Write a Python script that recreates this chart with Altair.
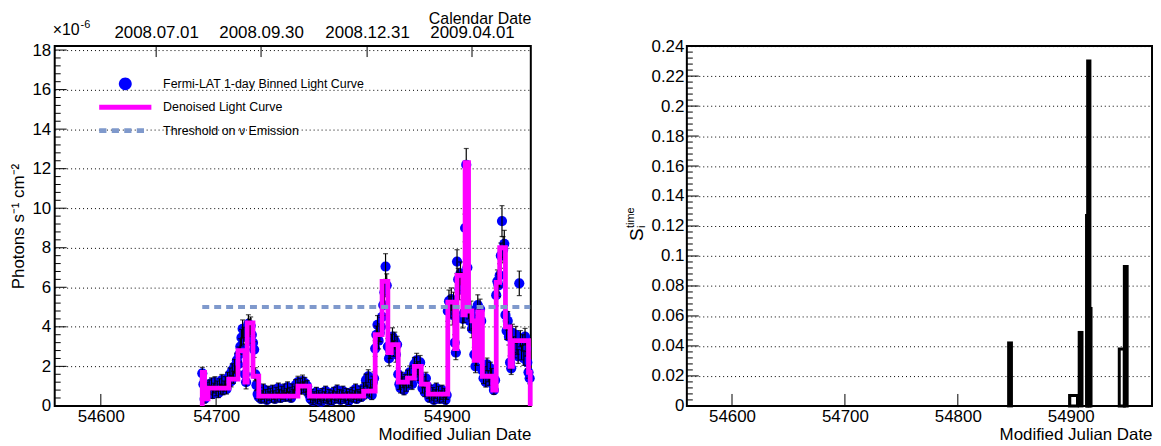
import altair as alt
import pandas as pd

FONT = "Liberation Sans"

# ---------------- left panel data ----------------
lc_first_mjd = 54688
lc_flux = [
    1.65, 1.10, 0.35, 0.55, 0.95, 0.70, 1.05, 0.80, 1.15, 0.60,   # 54688
    0.90, 1.20, 0.75, 1.00, 0.65, 1.10, 0.85, 1.30, 0.80, 1.00,   # 54698
    1.20, 0.85, 1.40, 1.15, 1.60, 1.25, 1.80, 1.45, 2.00, 1.70,   # 54708
    2.30, 2.10, 2.60, 3.00, 3.45, 3.90, 3.55, 1.60, 1.20, 3.80,   # 54718
    4.15, 3.95, 4.05, 3.60, 3.20, 2.85, 1.60, 1.05, 0.60, 0.45,   # 54728
    0.70, 0.35, 0.55, 0.85, 0.40, 0.60, 0.30, 0.75, 0.50, 0.65,   # 54738
    0.40, 0.80, 0.55, 0.35, 0.70, 0.45, 0.90, 0.60, 0.40, 0.75,   # 54748
    0.55, 0.85, 0.45, 0.65, 0.95, 0.50, 0.70, 0.40, 0.85, 0.60,   # 54758
    0.75, 1.05, 0.80, 1.20, 0.90, 1.10, 0.85, 1.25, 0.95, 1.15,   # 54768
    0.80, 1.00, 0.70, 0.55, 0.35, 0.60, 0.25, 0.50, 0.40, 0.70,   # 54778
    0.30, 0.55, 0.45, 0.20, 0.65, 0.35, 0.50, 0.75, 0.40, 0.30,   # 54788
    0.60, 0.45, 0.25, 0.55, 0.70, 0.35, 0.50, 0.80, 0.40, 0.60,   # 54798
    0.30, 0.55, 0.75, 0.45, 0.35, 0.65, 0.50, 0.25, 0.60, 0.45,   # 54808
    0.70, 0.40, 0.55, 0.85, 0.35, 0.60, 0.50, 0.75, 0.45, 0.65,   # 54818
    0.90, 0.60, 1.30, 0.80, 1.50, 0.70, 1.05, 0.55, 1.20, 1.40,   # 54828
    2.90, 3.60, 4.10, 3.30, 3.70, 4.00, 4.50, 5.10, 5.75, 7.05,   # 54838
    6.10, 3.00, 2.40, 2.80, 3.20, 3.50, 2.90, 3.30, 2.60, 3.10,   # 54848
    1.60, 1.10, 0.90, 1.40, 1.20, 0.80, 1.30, 1.00, 1.50, 1.20,   # 54858
    1.70, 1.30, 1.10, 1.60, 2.10, 1.80, 2.30, 1.90, 1.60, 2.20,   # 54868
    1.30, 0.90, 1.20, 0.70, 1.40, 1.00, 0.60, 0.40, 0.80, 0.50,   # 54878
    0.70, 0.30, 0.60, 0.90, 0.45, 0.75, 0.35, 0.55, 0.80, 0.40,   # 54888
    0.65, 0.30, 0.55, 4.80, 5.30, 5.00, 5.40, 4.60, 5.20, 3.20,   # 54898
    2.70, 7.30, 6.40, 5.90, 6.70, 6.20, 4.40, 4.70, 9.00, 12.20,  # 54908
    7.00, 4.90, 4.30, 4.80, 3.90, 4.40, 2.60, 2.00, 2.40, 5.10,   # 54918
    4.50, 4.90, 4.30, 1.80, 1.40, 1.70, 1.20, 2.10, 1.50, 1.30,   # 54928
    1.90, 1.60, 1.10, 0.80, 1.30, 5.60, 6.30, 6.10, 6.60, 7.60,   # 54938
    9.35, 7.90, 8.20, 4.60, 3.80, 4.30, 3.50, 2.20, 1.90, 3.70,   # 54948
    3.10, 2.80, 3.60, 3.00, 2.50, 6.20, 3.40, 2.70, 3.20, 2.40,   # 54958
    3.50, 2.90, 2.20, 1.70, 1.40,                                 # 54968
]
lc_err = [
    0.30, 0.25, 0.20, 0.22, 0.25, 0.24, 0.26, 0.24, 0.27, 0.22,
    0.25, 0.28, 0.24, 0.26, 0.23, 0.27, 0.25, 0.29, 0.24, 0.26,
    0.28, 0.25, 0.30, 0.27, 0.32, 0.29, 0.33, 0.31, 0.35, 0.32,
    0.36, 0.35, 0.38, 0.40, 0.42, 0.45, 0.43, 0.37, 0.34, 0.44,
    0.46, 0.45, 0.45, 0.43, 0.41, 0.40, 0.33, 0.28, 0.23, 0.21,
    0.24, 0.20, 0.22, 0.26, 0.21, 0.23, 0.19, 0.25, 0.22, 0.24,
    0.21, 0.25, 0.22, 0.20, 0.24, 0.21, 0.26, 0.23, 0.21, 0.24,
    0.22, 0.26, 0.21, 0.23, 0.27, 0.22, 0.24, 0.20, 0.26, 0.23,
    0.24, 0.28, 0.25, 0.30, 0.27, 0.29, 0.26, 0.31, 0.27, 0.29,
    0.25, 0.28, 0.24, 0.22, 0.20, 0.23, 0.18, 0.22, 0.21, 0.24,
    0.19, 0.22, 0.21, 0.17, 0.23, 0.20, 0.22, 0.25, 0.21, 0.19,
    0.23, 0.21, 0.18, 0.22, 0.24, 0.20, 0.22, 0.26, 0.21, 0.23,
    0.19, 0.22, 0.25, 0.21, 0.20, 0.23, 0.22, 0.18, 0.23, 0.21,
    0.24, 0.21, 0.22, 0.26, 0.20, 0.23, 0.22, 0.25, 0.21, 0.23,
    0.27, 0.24, 0.31, 0.26, 0.33, 0.25, 0.28, 0.23, 0.30, 0.32,
    0.40, 0.44, 0.47, 0.42, 0.45, 0.47, 0.50, 0.53, 0.56, 0.65,
    0.58, 0.41, 0.37, 0.40, 0.42, 0.45, 0.40, 0.43, 0.39, 0.42,
    0.31, 0.27, 0.25, 0.30, 0.28, 0.24, 0.29, 0.26, 0.31, 0.28,
    0.32, 0.29, 0.27, 0.31, 0.35, 0.33, 0.36, 0.34, 0.31, 0.35,
    0.29, 0.25, 0.28, 0.23, 0.30, 0.26, 0.22, 0.20, 0.25, 0.21,
    0.23, 0.19, 0.22, 0.26, 0.21, 0.24, 0.20, 0.22, 0.25, 0.20,
    0.23, 0.19, 0.22, 0.52, 0.56, 0.54, 0.57, 0.51, 0.55, 0.40,
    0.36, 0.60, 0.56, 0.53, 0.58, 0.55, 0.46, 0.48, 0.70, 0.82,
    0.62, 0.50, 0.47, 0.50, 0.45, 0.48, 0.36, 0.32, 0.35, 0.52,
    0.48, 0.50, 0.47, 0.30, 0.27, 0.29, 0.25, 0.32, 0.28, 0.26,
    0.31, 0.29, 0.25, 0.22, 0.27, 0.54, 0.58, 0.57, 0.59, 0.64,
    0.78, 0.66, 0.68, 0.49, 0.44, 0.47, 0.42, 0.33, 0.31, 0.43,
    0.40, 0.37, 0.42, 0.39, 0.35, 0.62, 0.41, 0.37, 0.40, 0.35,
    0.42, 0.38, 0.33, 0.30, 0.28,
]

denoise_start = [54688, 54690, 54693, 54711, 54719, 54725, 54727, 54732, 54737, 54771,
                 54781, 54828, 54838, 54844, 54849, 54852, 54858, 54866, 54872, 54878,
                 54884, 54901, 54907, 54909, 54914, 54916, 54919, 54922, 54924, 54927,
                 54931, 54940, 54943, 54946, 54951, 54955, 54957, 54971]
denoise_value = [1.7, 0.35, 0.9, 1.35, 2.8, 1.2, 4.2, 1.5, 0.5, 1.0,
                 0.5, 0.75, 3.6, 6.3, 2.7, 3.1, 1.2, 1.4, 2.0, 1.1,
                 0.6, 5.25, 2.9, 6.6, 4.6, 12.3, 4.8, 4.3, 2.3, 4.75,
                 1.5, 0.8, 6.25, 8.0, 4.0, 2.0, 3.3, 1.7]
denoise_end = 54972.5

threshold_level = 5.0
threshold_start = 54688
threshold_end = 54972.5

legend_labels = ["Fermi-LAT 1-day Binned Light Curve", "Denoised Light Curve",
                 "Threshold on \u03bd Emission"]
legend_colors = ["#0000ff", "#ff00ff", "#7f99cc"]

date_mjd = [54648, 54739, 54831, 54922]
date_labels = ["2008.07.01", "2008.09.30", "2008.12.31", "2009.04.01"]

x_major = [54600, 54700, 54800, 54900]
left_y_major = [0, 2, 4, 6, 8, 10, 12, 14, 16, 18]

# ---------------- right panel data ----------------
sig_start = [54845, 54899, 54907.5, 54914, 54915, 54917, 54943, 54947.5]
sig_end = [54847.5, 54906, 54910, 54915, 54917, 54918, 54947.5, 54950]
sig_value = [0.042, 0.007, 0.049, 0.127, 0.230, 0.065, 0.038, 0.093]

right_y_major = [0, 0.02, 0.04, 0.06, 0.08, 0.1, 0.12, 0.14, 0.16, 0.18, 0.2, 0.22, 0.24]

assert len(lc_flux) == len(lc_err)
assert len(denoise_start) == len(denoise_value)

# ---------------- tables ----------------
lc_mjd = [lc_first_mjd + i for i in range(len(lc_flux))]
lc = pd.DataFrame({
    "mjd": lc_mjd,
    "flux": lc_flux,
    "lo": [max(f - e, 0.0) for f, e in zip(lc_flux, lc_err)],
    "hi": [f + e for f, e in zip(lc_flux, lc_err)],
})
step_x = [denoise_start[0]] + denoise_start + [denoise_end]
step_y = [0.0] + denoise_value + [0.0]
step_df = pd.DataFrame({"i": list(range(len(step_x))), "mjd": step_x, "flux": step_y})
thr_df = pd.DataFrame({"x0": [threshold_start], "x1": [threshold_end], "level": [threshold_level]})
legend_df = pd.DataFrame({"label": legend_labels})
sig_df = pd.DataFrame({"x0": sig_start, "x1": sig_end, "s": sig_value})

left_y_minor = [round(0.4 * k, 2) for k in range(46) if k % 5]
right_y_minor = [round(0.004 * k, 3) for k in range(61) if k % 5]

# ---------------- common axis pieces ----------------
L_W, L_H = 479, 362
R_W, R_H = 468, 362
xsL = alt.Scale(domain=[54560, 54973], nice=False, zero=False)
ysL = alt.Scale(domain=[0, 18.2], nice=False, zero=False)
xsR = alt.Scale(domain=[54560, 54972], nice=False, zero=False)
ysR = alt.Scale(domain=[0, 0.24], nice=False, zero=False)

def bottom_axis():
    return alt.Axis(values=x_major, format="d", grid=False, ticks=False, tickSize=0,
                    domain=False, labelPadding=2.5, labelFontSize=17, labelFlush=False,
                    title="Modified Julian Date", titleFontSize=17, titleAnchor="end",
                    titlePadding=1.5, minExtent=19.5, maxExtent=19.5)

label_expr = " : ".join(
    f"datum.value == {m} ? '{l}'" for m, l in zip(date_mjd, date_labels)) + " : ''"

top_axis = alt.Axis(orient="top", values=date_mjd, labelExpr=label_expr, grid=False,
                    ticks=False, tickSize=0, domain=False, labelPadding=5,
                    labelFontSize=17, labelFlush=False, labelOverlap=False,
                    title="Calendar Date", titleFontSize=16, titleAnchor="end",
                    titlePadding=-3, minExtent=23, maxExtent=23)

left_y_axis = alt.Axis(values=left_y_major, format="d", grid=True, gridColor="black",
                       gridDash=[1, 3], gridWidth=1, gridOpacity=1, ticks=False, tickSize=0,
                       domain=False, labelPadding=4, labelFontSize=17,
                       title="Photons s\u207b\u00b9 cm\u207b\u00b2", titleFontSize=17,
                       titlePadding=0, minExtent=27, maxExtent=27)

right_y_axis = alt.Axis(values=right_y_major, format="~g", grid=True, gridColor="black",
                        gridDash=[1, 3], gridWidth=1, gridOpacity=1, ticks=False, tickSize=0,
                        domain=False, labelPadding=3, labelFontSize=17, title="",
                        minExtent=40, maxExtent=40)

# ---------------- left chart ----------------
l_ymaj = alt.Chart(pd.DataFrame({"v": left_y_major})).mark_rule(color="black", strokeWidth=1).encode(
    y=alt.Y("v:Q", scale=ysL, axis=left_y_axis), x=alt.value(0), x2=alt.value(12))
l_ymin = alt.Chart(pd.DataFrame({"v": left_y_minor})).mark_rule(color="black", strokeWidth=1).encode(
    y=alt.Y("v:Q", scale=ysL, axis=None), x=alt.value(0), x2=alt.value(6))
l_xmaj = alt.Chart(pd.DataFrame({"v": x_major})).mark_rule(color="black", strokeWidth=1).encode(
    x=alt.X("v:Q", scale=xsL, axis=bottom_axis()), y=alt.value(L_H), y2=alt.value(L_H - 12))
l_top = alt.Chart(pd.DataFrame({"v": date_mjd})).mark_rule(color="black", strokeWidth=1).encode(
    x=alt.X("v:Q", scale=xsL, axis=top_axis), y=alt.value(0), y2=alt.value(11))

pts = alt.Chart(lc).mark_circle(size=105, color="#0000ff", opacity=1).encode(
    x=alt.X("mjd:Q", scale=xsL, axis=None), y=alt.Y("flux:Q", scale=ysL, axis=None))
err = alt.Chart(lc).mark_rule(color="black", strokeWidth=1.2).encode(
    x=alt.X("mjd:Q", scale=xsL, axis=None), y=alt.Y("lo:Q", scale=ysL, axis=None), y2="hi:Q")
cap_hi = alt.Chart(lc).mark_tick(color="black", size=5, thickness=1.2, orient="horizontal").encode(
    x=alt.X("mjd:Q", scale=xsL, axis=None), y=alt.Y("hi:Q", scale=ysL, axis=None))
cap_lo = alt.Chart(lc).mark_tick(color="black", size=5, thickness=1.2, orient="horizontal").encode(
    x=alt.X("mjd:Q", scale=xsL, axis=None), y=alt.Y("lo:Q", scale=ysL, axis=None))
step = alt.Chart(step_df).mark_line(color="#ff00ff", strokeWidth=4.8, interpolate="step-after").encode(
    x=alt.X("mjd:Q", scale=xsL, axis=None), y=alt.Y("flux:Q", scale=ysL, axis=None),
    order=alt.Order("i:Q"))
thr = alt.Chart(thr_df).mark_rule(color="#7f99cc", strokeWidth=4, strokeDash=[7, 5]).encode(
    x=alt.X("x0:Q", scale=xsL, axis=None), x2="x1:Q", y=alt.Y("level:Q", scale=ysL, axis=None))

legend_shapes = [
    "M0.93,0A0.93,0.93,0,1,1,-0.93,0A0.93,0.93,0,1,1,0.93,0Z",
    "M-3.75,-0.36H3.75V0.36H-3.75Z",
    "M-3.75,-0.33H-2.71V0.33H-3.75ZM-1.95,-0.33H-0.91V0.33H-1.95Z"
    "M-0.15,-0.33H0.89V0.33H-0.15ZM1.65,-0.33H2.69V0.33H1.65Z",
]
leg = alt.Legend(orient="none", legendX=64, legendY=31, symbolSize=196, symbolStrokeWidth=0,
                 symbolOpacity=1, labelOffset=31, rowPadding=9.5, padding=0,
                 labelFont=FONT, labelFontSize=12.5, labelColor="black", labelLimit=400)
legend_layer = alt.Chart(legend_df).mark_point(filled=True, opacity=1).encode(
    color=alt.Color("label:N", title=None,
                    scale=alt.Scale(domain=legend_labels, range=legend_colors), legend=leg),
    shape=alt.Shape("label:N", title=None,
                    scale=alt.Scale(domain=legend_labels, range=legend_shapes), legend=leg),
).transform_filter("false")

exp_main = alt.Chart(pd.DataFrame({"t": ["\u00d710"]})).mark_text(
    font=FONT, fontSize=16, align="left", baseline="alphabetic", color="black").encode(
    text="t:N", x=alt.value(-2), y=alt.value(-11))
exp_sup = alt.Chart(pd.DataFrame({"t": ["-6"]})).mark_text(
    font=FONT, fontSize=11, align="left", baseline="alphabetic", color="black").encode(
    text="t:N", x=alt.value(26), y=alt.value(-18))

left = alt.layer(l_ymaj, l_ymin, l_xmaj, l_top, pts, err, cap_hi, cap_lo, step, thr,
                 legend_layer, exp_main, exp_sup).resolve_axis(
    x="independent", y="independent").properties(width=L_W, height=L_H)

# ---------------- right chart ----------------
r_ymaj = alt.Chart(pd.DataFrame({"v": right_y_major})).mark_rule(color="black", strokeWidth=1).encode(
    y=alt.Y("v:Q", scale=ysR, axis=right_y_axis), x=alt.value(0), x2=alt.value(12))
r_ymin = alt.Chart(pd.DataFrame({"v": right_y_minor})).mark_rule(color="black", strokeWidth=1).encode(
    y=alt.Y("v:Q", scale=ysR, axis=None), x=alt.value(0), x2=alt.value(6))
r_xmaj = alt.Chart(pd.DataFrame({"v": x_major})).mark_rule(color="black", strokeWidth=1).encode(
    x=alt.X("v:Q", scale=xsR, axis=bottom_axis()), y=alt.value(R_H), y2=alt.value(R_H - 12))
hist = alt.Chart(sig_df).mark_rect(fill="white", fillOpacity=0, stroke="black", strokeWidth=3).encode(
    x=alt.X("x0:Q", scale=xsR, axis=None), x2="x1:Q",
    y=alt.Y("s:Q", scale=ysR, axis=None), y2=alt.datum(0))

t_S = alt.Chart(pd.DataFrame({"t": ["S"]})).mark_text(
    font=FONT, fontSize=19, angle=270, align="left", baseline="alphabetic", color="black").encode(
    text="t:N", x=alt.value(-44), y=alt.value(196))
t_time = alt.Chart(pd.DataFrame({"t": ["time"]})).mark_text(
    font=FONT, fontSize=11, angle=270, align="left", baseline="alphabetic", color="black").encode(
    text="t:N", x=alt.value(-53), y=alt.value(183))
t_i = alt.Chart(pd.DataFrame({"t": ["i"]})).mark_text(
    font=FONT, fontSize=11, angle=270, align="left", baseline="alphabetic", color="black").encode(
    text="t:N", x=alt.value(-42), y=alt.value(183))

right = alt.layer(r_ymaj, r_ymin, r_xmaj, hist, t_S, t_time, t_i).resolve_axis(
    x="independent", y="independent").properties(width=R_W, height=R_H)

chart = alt.hconcat(left, right, spacing=157, bounds="flush").resolve_scale(
    x="independent", y="independent", color="independent", shape="independent"
).properties(
    padding={"left": 1, "top": 0, "right": 0, "bottom": 0}
).configure_view(
    stroke="black", strokeWidth=2
).configure_axis(
    labelFont=FONT, titleFont=FONT, labelColor="black", titleColor="black",
    titleFontWeight="normal"
)

chart.save("out.html", embed_options={"renderer": "svg", "actions": False})
